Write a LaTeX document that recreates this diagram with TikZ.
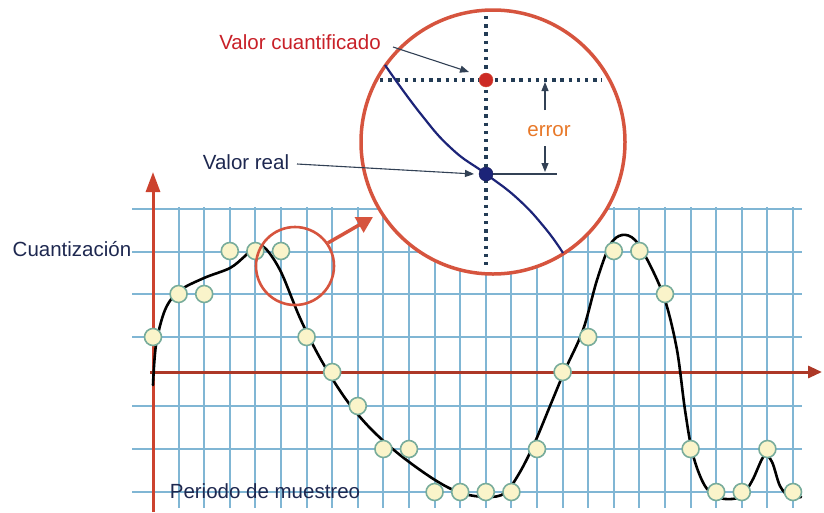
\documentclass[tikz,border=0pt]{standalone}
\usepackage{fontspec}
\setmainfont{Liberation Sans}
\usetikzlibrary{arrows.meta}
\definecolor{axisred}{RGB}{204,66,46}
\definecolor{gridblue}{RGB}{128,182,212}
\definecolor{samplefill}{RGB}{250,244,202}
\definecolor{sampledraw}{RGB}{120,172,155}
\definecolor{magred}{RGB}{214,84,62}
\definecolor{qred}{RGB}{200,32,40}
\definecolor{navy}{RGB}{30,40,80}
\definecolor{realblue}{RGB}{28,36,120}
\definecolor{errorange}{RGB}{232,120,40}
\definecolor{leadgray}{RGB}{50,65,85}
\definecolor{dotnavy}{RGB}{35,60,85}
\tikzset{
  gridline/.style={draw=gridblue, line width=2pt},
  axisline/.style={draw=axisred, line width=3pt, -{Triangle[length=20pt,width=14pt]}},
  sample/.style={circle, fill=samplefill, draw=sampledraw, line width=1.6pt, minimum size=17pt, inner sep=0pt},
  lbl/.style={inner sep=0pt, font=\fontsize{20.5}{24}\selectfont},
  leader/.style={draw=leadgray, line width=1.1pt, -{Triangle[length=9pt,width=7pt]}},
  dotline/.style={draw=dotnavy, line width=3.4pt, dash pattern=on 3.4pt off 4.8pt},
  magcircle/.style={draw=magred, line width=3.5pt, fill=white},
}
\begin{document}
\begin{tikzpicture}[x=1pt,y=-1pt]
\useasboundingbox (0,0) rectangle (824,512);
% grid
\foreach \k in {1,...,25} \draw[gridline] ({153+25.6*\k},207) -- ({153+25.6*\k},508);
\foreach \y in {209,252,294,337,406,449,492} \draw[gridline] (132,\y) -- (802,\y);
% axes
\coordinate (yb) at (153,512);
\coordinate (yt) at (153,172);
\coordinate (xl) at (150,372);
\coordinate (xr) at (822,372);
\draw[axisline] (yb) -- (yt);
\draw[axisline, draw=axisred!85!black, -{Triangle[length=14pt,width=12pt]}] (xl) -- (xr);
% curve
\draw[black, line width=2.6pt, line cap=round] plot[smooth, tension=0.55] coordinates {
 (153,385) (156,345) (165,310) (179,291) (204,278) (230,268) (245,256) (256,246)
 (266,249) (281,272) (300,318) (320,358) (345,398) (370,428) (400,455) (435,480)
 (461,493) (487,497) (505,493) (520,472) (535,442) (550,406) (565,370) (583,330)
 (597,280) (610,245) (622,235) (635,240) (650,265) (665,300) (677,350) (685,410)
 (693,455) (705,486) (720,498) (740,497) (752,481) (764,456) (772,462) (780,486)
 (790,497) (801,497)};
% samples
\foreach \k/\y in {0/337,1/294,2/294,3/251,4/251,5/251,6/337,7/372,8/406,9/449,10/449,
  11/492,12/492,13/492,14/492,15/449,16/372,17/337,18/251,19/251,20/294,21/449,22/492,
  23/492,24/449,25/492}
  \node[sample] (s\k) at ({153+25.6*\k},\y) {};
% small circle and arrow
\node[circle, draw=magred, line width=2.6pt, minimum size=78pt, inner sep=0pt] (zc) at (295,266) {};
\coordinate (zt) at (373,217);
\draw[draw=magred, line width=3.5pt, -{Triangle[length=16pt,width=17pt]}] (zc.35) -- (zt);
% magnifier
\node[circle, magcircle, minimum size=264pt, inner sep=0pt] (mag) at (493,142) {};
\coordinate (vtop) at (486,16);
\coordinate (vbot) at (486,270);
\coordinate (hl) at (380,80);
\coordinate (hr) at (602,80);
\draw[dotline] (vtop) -- (vbot);
\draw[dotline] (hl) -- (hr);
\draw[draw=realblue, line width=2.2pt] plot[smooth, tension=0.8] coordinates {
 (385,65) (420,113) (452,149) (486,174) (518,199) (545,228) (563,253)};
% error marks
\node[circle, fill=realblue, draw=realblue!70!black, minimum size=14pt, inner sep=0pt] (bd) at (486,174) {};
\node[circle, fill=qred!90!orange, draw=magred, minimum size=14pt, inner sep=0pt] (rd) at (486,80) {};
\coordinate (ebl) at (557,174);
\draw[draw=leadgray, line width=1.1pt] (bd) -- (ebl);
\coordinate (eu1) at (545,110);
\coordinate (eu2) at (545,82);
\coordinate (ed1) at (545,146);
\coordinate (ed2) at (545,172);
\draw[leader] (eu1) -- (eu2);
\draw[leader] (ed1) -- (ed2);
\node[lbl, text=errorange] (err) at (549,131) {error};
% labels
\node[lbl, text=qred] (vc) at (300,42) {Valor cuantificado};
\node[lbl, text=navy] (vr) at (246,162) {Valor real};
\node[lbl, text=navy] (cz) at (72,249) {Cuantización};
\node[lbl, text=navy] (pm) at (265,491) {Periodo de muestreo};
\coordinate (vcs) at (393,47);
\coordinate (vct) at (469,72);
\draw[leader] (vcs) -- (vct);
\coordinate (vrs) at (297,164);
\coordinate (vrt) at (474,174);
\draw[leader] (vrs) -- (vrt);
\end{tikzpicture}
\end{document}
